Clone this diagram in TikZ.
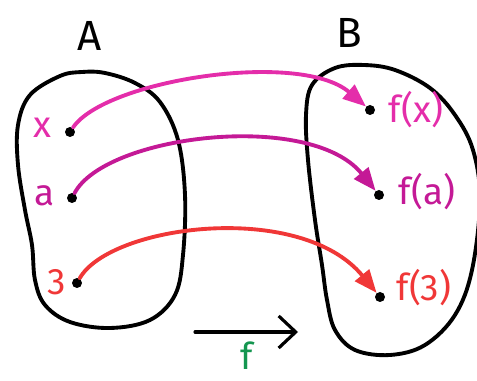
\documentclass[tikz,border=0pt]{standalone}
\usepackage{fontspec}
\setmainfont{Fira Sans}
\usetikzlibrary{arrows.meta}

\definecolor{pinkpen}{RGB}{228,45,170}
\definecolor{purplepen}{RGB}{196,25,150}
\definecolor{redpen}{RGB}{240,55,55}
\definecolor{greenpen}{RGB}{20,150,80}

\begin{document}
\begin{tikzpicture}[
    x=0.02cm, y=-0.02cm,
    line cap=round, line join=round,
    % Style for the two set outlines
    set line/.style={line width=2.2pt, black},
    % Style for the element dots
    elem dot/.style={circle, fill=black, inner sep=0pt, minimum size=0.2cm},
    % Styles for the texts
    elem text/.style={font=\fontsize{21}{23}\selectfont, inner sep=0pt},
    set text/.style={font=\fontsize{24}{26}\selectfont, inner sep=0pt},
    % Style for the coloured arrows
    map arrow/.style={line width=2.2pt, -{Triangle[length=0.46cm, width=0.36cm]}}
]

    \useasboundingbox (0,0) rectangle (477,381);

    % ==========================
    % Set A
    % ==========================
    \draw[set line] plot[smooth cycle, tension=0.6] coordinates {
        (60,76) (82,72) (105,73) (135,83) (160,102) (178,140) (185,195)
        (183,255) (175,295) (150,320) (110,328) (70,322) (45,305)
        (35,280) (32,245) (25,210) (18,165) (18,125) (30,95)};
    \node[set text] (setA) at (90,36) {A};

    \node[elem dot] (x) at (70,132) {};
    \node[elem dot] (a) at (72,198) {};
    \node[elem dot] (three) at (77,283) {};
    \node[elem text, text=pinkpen] (xlab) at (42,128) {x};
    \node[elem text, text=purplepen] (alab) at (45,196) {a};
    \node[elem text, text=redpen] (threelab) at (57,282) {3};

    % ==========================
    % Set B
    % ==========================
    \draw[set line] plot[smooth cycle, tension=0.6] coordinates {
        (364,65) (395,70) (430,88) (455,115) (473,150) (480,200)
        (472,270) (455,315) (425,345) (390,355) (355,350) (335,330)
        (327,300) (322,265) (315,220) (308,160) (306,115) (312,85) (335,68)};
    \node[set text] (setB) at (349,33) {B};

    \node[elem dot] (fx) at (370,110) {};
    \node[elem dot] (fa) at (379,195) {};
    \node[elem dot] (fthree) at (380,297) {};
    \node[elem text, text=pinkpen] (fxlab) at (416,110) {f(x)};
    \node[elem text, text=purplepen] (falab) at (427,192) {f(a)};
    \node[elem text, text=redpen] (fthreelab) at (424,288) {f(3)};

    % ==========================
    % The map f
    % ==========================
    \draw[map arrow, pinkpen] (x) .. controls (105,80) and (300,50) .. (fx);
    \draw[map arrow, purplepen] (a) .. controls (105,135) and (310,110) .. (fa);
    \draw[map arrow, redpen] (three) .. controls (110,225) and (300,200) .. (fthree);

    \coordinate (fstart) at (195,332);
    \coordinate (fend) at (298,332);
    \draw[line width=1.8pt, -{Straight Barb[length=0.34cm, width=0.64cm]}] (fstart) -- (fend);
    \node[elem text, text=greenpen] (fname) at (247,356) {f};

\end{tikzpicture}
\end{document}
